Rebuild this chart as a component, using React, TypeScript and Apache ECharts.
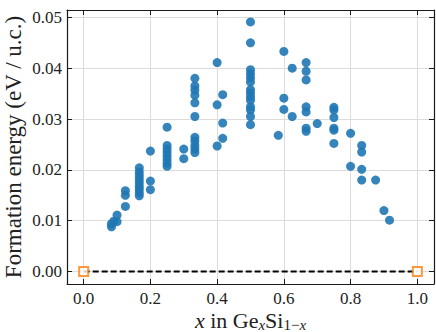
import React, { useEffect, useRef } from "react";
import * as echarts from "echarts";

// Composition x (Ge fraction) and formation energy (eV / u.c.) of each structure
const compositionX = [
  0.0833, 0.0833, 0.09, 0.1, 0.1,
  0.125, 0.125, 0.125,
  0.1667, 0.1667, 0.1667, 0.1667, 0.1667, 0.1667, 0.1667, 0.1667, 0.1667,
  0.2, 0.2, 0.2,
  0.25, 0.25, 0.25, 0.25, 0.25, 0.25, 0.25, 0.25,
  0.3, 0.3,
  0.3333, 0.3333, 0.3333, 0.3333, 0.3333, 0.3333, 0.3333, 0.3333, 0.3333, 0.3333, 0.3333,
  0.4, 0.4, 0.4,
  0.4167, 0.4167, 0.4167,
  0.5, 0.5, 0.5, 0.5, 0.5, 0.5, 0.5, 0.5, 0.5, 0.5, 0.5, 0.5, 0.5, 0.5,
  0.5833,
  0.6, 0.6, 0.6,
  0.625, 0.625,
  0.6667, 0.6667, 0.6667, 0.6667, 0.6667, 0.6667, 0.6667,
  0.7,
  0.75, 0.75, 0.75, 0.75, 0.75, 0.75,
  0.8, 0.8,
  0.8333, 0.8333, 0.8333, 0.8333,
  0.875,
  0.9,
  0.9167,
];
const formationEnergy = [
  0.0088, 0.0094, 0.0099, 0.0098, 0.0111,
  0.0159, 0.015, 0.0128,
  0.0204, 0.0196, 0.0189, 0.0182, 0.0175, 0.0168, 0.0162, 0.0155, 0.0149,
  0.0237, 0.0178, 0.0161,
  0.0284, 0.0248, 0.0241, 0.0234, 0.0227, 0.022, 0.0213, 0.0207,
  0.0241, 0.0222,
  0.038, 0.0365, 0.0357, 0.0347, 0.0332, 0.0305, 0.0264, 0.0257, 0.0248, 0.0241, 0.0234,
  0.0411, 0.0328, 0.0247,
  0.0348, 0.0292, 0.0262,
  0.0491, 0.045, 0.0397, 0.0389, 0.0381, 0.0373, 0.0358, 0.0351, 0.0344, 0.0337, 0.0324, 0.0318, 0.0305, 0.0289,
  0.0268,
  0.0433, 0.0341, 0.0319,
  0.04, 0.0305,
  0.0411, 0.0394, 0.0377, 0.0324, 0.0314, 0.0282, 0.0276,
  0.0291,
  0.0323, 0.0318, 0.0303, 0.0282, 0.0278, 0.0252,
  0.0272, 0.0207,
  0.0248, 0.0235, 0.0201, 0.018,
  0.018,
  0.012,
  0.0101,
];

// Convex hull end points (pure Si and pure Ge)
const hullX = [0, 1];
const hullY = [0, 0];

const xTickStep = 0.2;
const yTickStep = 0.01;
const xRange = [-0.05, 1.05];
const yRange = [-0.00245, 0.05145];

const SERIF = "Liberation Serif";
const AXIS_COLOR = "#1a1a1a";

const onStep = (v: number, step: number) =>
  Math.abs(v / step - Math.round(v / step)) < 1e-6;

export default function App() {
  const ref = useRef<HTMLDivElement>(null);

  useEffect(() => {
    const chart = echarts.init(ref.current!, null, { renderer: "svg" });

    const scatterData = compositionX.map((x, i) => [x, formationEnergy[i]]);
    const hullData = hullX.map((x, i) => [x, hullY[i]]);

    const baseX = {
      type: "value",
      min: xRange[0],
      max: xRange[1],
      splitNumber: 5,
      axisLine: { show: true, onZero: false, lineStyle: { color: AXIS_COLOR, width: 1.2 } },
      axisTick: { show: true, inside: true, length: 5, lineStyle: { color: AXIS_COLOR, width: 1 } },
    };
    const baseY = {
      type: "value",
      min: yRange[0],
      max: yRange[1],
      splitNumber: 5,
      axisLine: { show: true, onZero: false, lineStyle: { color: AXIS_COLOR, width: 1.2 } },
      axisTick: { show: true, inside: true, length: 5, lineStyle: { color: AXIS_COLOR, width: 1 } },
    };

    chart.setOption({
      animation: false,
      backgroundColor: "#ffffff",
      textStyle: { fontFamily: SERIF },
      grid: { left: 67, right: 2, top: 10, bottom: 48, containLabel: false },
      xAxis: [
        {
          ...baseX,
          position: "bottom",
          axisLabel: {
            show: true,
            showMinLabel: false,
            showMaxLabel: false,
            margin: 6,
            fontFamily: SERIF,
            fontSize: 17,
            color: "#222",
            formatter: (v: number) => (onStep(v, xTickStep) ? v.toFixed(1) : ""),
          },
          splitLine: { show: true, lineStyle: { color: "#dcdcdc", width: 1 } },
        },
        {
          ...baseX,
          position: "top",
          axisLabel: { show: false },
          splitLine: { show: false },
        },
      ],
      yAxis: [
        {
          ...baseY,
          position: "left",
          axisLabel: {
            show: true,
            showMinLabel: false,
            showMaxLabel: false,
            margin: 5,
            fontFamily: SERIF,
            fontSize: 17,
            color: "#222",
            formatter: (v: number) => (onStep(v, yTickStep) ? v.toFixed(2) : ""),
          },
          splitLine: { show: true, lineStyle: { color: "#dcdcdc", width: 1 } },
        },
        {
          ...baseY,
          position: "right",
          axisLabel: { show: false },
          splitLine: { show: false },
        },
      ],
      series: [
        {
          type: "scatter",
          data: scatterData,
          symbol: "circle",
          symbolSize: 9,
          itemStyle: { color: "#1f77b4", opacity: 0.9 },
          z: 3,
        },
        {
          type: "line",
          data: hullData,
          symbol: "none",
          lineStyle: { color: "#000000", width: 2, type: [6, 3] },
          z: 4,
        },
        {
          type: "scatter",
          data: hullData,
          symbol: "rect",
          symbolSize: 9,
          itemStyle: { color: "#ffffff", borderColor: "#ff7f0e", borderWidth: 2 },
          z: 5,
        },
      ],
      graphic: [
        {
          type: "text",
          x: 250.5,
          y: 320,
          style: {
            text: "{i|x} in Ge{si|x}Si{s|1−}{si|x}",
            fontFamily: SERIF,
            fontSize: 22,
            fill: "#222",
            textAlign: "center",
            textVerticalAlign: "middle",
            rich: {
              i: { fontFamily: SERIF, fontSize: 22, fontStyle: "italic", fill: "#222" },
              si: { fontFamily: SERIF, fontSize: 15, fontStyle: "italic", fill: "#222", padding: [9, 0, 0, 0] },
              s: { fontFamily: SERIF, fontSize: 15, fill: "#222", padding: [9, 0, 0, 0] },
            },
          },
        },
        {
          type: "text",
          x: 13,
          y: 147,
          rotation: Math.PI / 2,
          style: {
            text: "Formation energy (eV / u.c.)",
            fontFamily: SERIF,
            fontSize: 23,
            fill: "#222",
            textAlign: "center",
            textVerticalAlign: "middle",
          },
        },
      ],
    });

    return () => chart.dispose();
  }, []);

  return (
    <div
      ref={ref}
      style={{ position: "fixed", left: 0, top: 0, width: 436, height: 332 }}
    />
  );
}
